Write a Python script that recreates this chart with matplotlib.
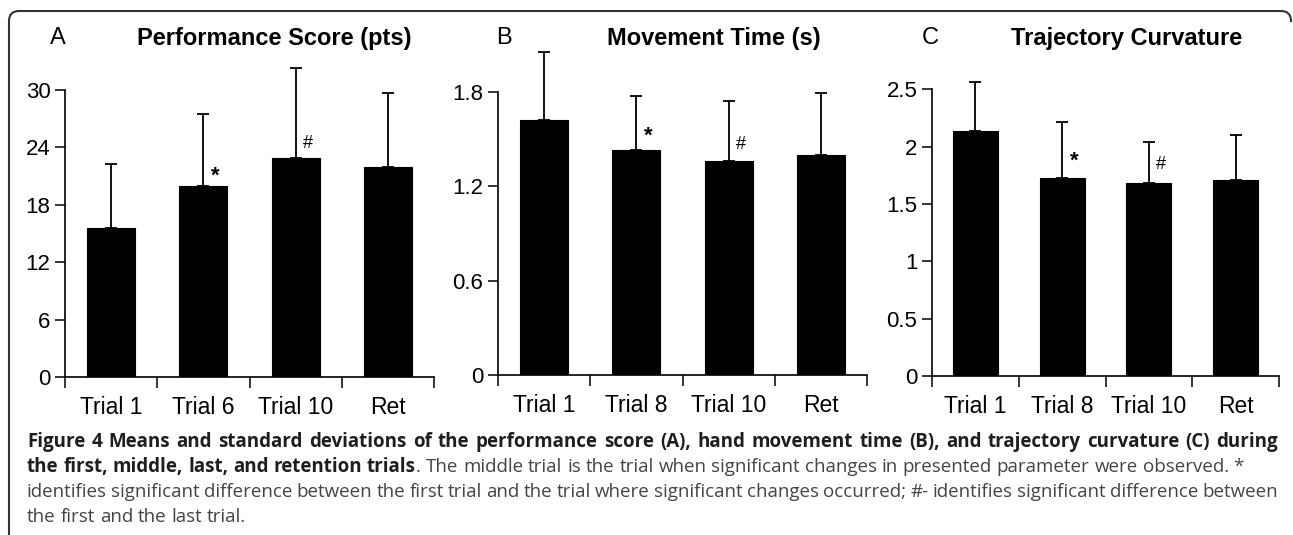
import matplotlib
matplotlib.use("Agg")
import numpy as np
from matplotlib import pyplot as plt
from matplotlib.patches import PathPatch
from matplotlib.path import Path

# data
trials_a = ["Trial 1", "Trial 6", "Trial 10", "Ret"]
trials_bc = ["Trial 1", "Trial 8", "Trial 10", "Ret"]

score_mean = [15.6, 19.9, 22.9, 21.9]
score_sd = [6.6, 7.6, 9.4, 7.8]

time_mean = [1.62, 1.43, 1.36, 1.40]
time_sd = [0.435, 0.345, 0.383, 0.394]

curv_mean = [2.14, 1.725, 1.68, 1.707]
curv_sd = [0.42, 0.485, 0.36, 0.393]

W, H = 1293, 535
plt.rcParams["font.family"] = ["Liberation Sans", "DejaVu Sans"]
fig = plt.figure(figsize=(W / 100, H / 100), dpi=100)


def fx(x):
    return x / W


def fy(y):
    return 1 - y / H


def panel(rect, cats, means, sds, ylim, yticks, ytl, spine_top, marks):
    x0, x1, ytop, ybot = rect
    ax = fig.add_axes([fx(x0), fy(ybot), fx(x1 - x0), (ybot - ytop) / H])
    pos = np.arange(len(cats))
    ax.bar(pos, means, width=0.52, color="black", edgecolor="black", lw=0.8, zorder=2)
    ax.errorbar(pos, means, yerr=[np.zeros(len(sds)), sds], fmt="none",
                ecolor="black", elinewidth=1.3, capsize=4.5, capthick=1.3, zorder=1)
    ax.set_xlim(-0.5, len(cats) - 0.5)
    ax.set_ylim(*ylim)
    for s in ["top", "right"]:
        ax.spines[s].set_visible(False)
    ax.spines["left"].set_bounds(0, spine_top)
    ax.spines["left"].set_linewidth(1.2)
    ax.spines["bottom"].set_linewidth(1.2)
    ax.set_yticks(yticks)
    ax.set_yticklabels(ytl, fontsize=16)
    ax.tick_params(axis="y", length=7, width=1.1, pad=3.5)
    ax.set_xticks(pos)
    ax.set_xticklabels(cats, fontsize=16.5)
    ax.tick_params(axis="x", which="major", length=0, pad=14)
    ax.set_xticks(np.arange(-0.5, len(cats), 1.0), minor=True)
    ax.tick_params(axis="x", which="minor", length=8, width=1.1)
    for i, sym, dy in marks:
        size = 16 if sym == "*" else 13
        wt = "bold" if sym == "*" else "normal"
        ax.annotate(sym, (pos[i], means[i]), xytext=(12, dy), textcoords="offset pixels",
                    ha="center", va="bottom", fontsize=size, fontweight=wt)
    return ax


panel((65, 434, 61, 377), trials_a, score_mean, score_sd, (0, 33),
      [0, 6, 12, 18, 24, 30], ["0", "6", "12", "18", "24", "30"], 30,
      [(1, "*", 0), (2, "#", 6)])
panel((498, 867, 45, 375), trials_bc, time_mean, time_sd, (0, 2.1),
      [0, 0.6, 1.2, 1.8], ["0", "0.6", "1.2", "1.8"], 1.8,
      [(1, "*", 4), (2, "#", 8)])
panel((932, 1279, 72, 376), trials_bc, curv_mean, curv_sd, (0, 2.65),
      [0, 0.5, 1, 1.5, 2, 2.5], ["0", "0.5", "1", "1.5", "2", "2.5"], 2.5,
      [(1, "*", 6), (2, "#", 10)])

# panel letters and titles
for lx, tx, letter, title in [(58, 274, "A", "Performance Score (pts)"),
                              (504, 714, "B", "Movement Time (s)"),
                              (930, 1127, "C", "Trajectory Curvature")]:
    fig.text(fx(lx), fy(38), letter, fontsize=17, ha="center", va="center")
    fig.text(fx(tx), fy(39), title, fontsize=17, fontweight="bold",
             ha="center", va="center")

# frame around the figure
r = 10
verts = [(9, H), (9, 11 + r), (9, 11), (9 + r, 11), (1291 - r, 11), (1291, 11),
         (1291, 11 + r), (1291, 22)]
codes = [Path.MOVETO, Path.LINETO, Path.CURVE3, Path.CURVE3, Path.LINETO,
         Path.CURVE3, Path.CURVE3, Path.LINETO]
verts = [(fx(x), fy(y)) for x, y in verts]
fig.add_artist(PathPatch(Path(verts, codes), facecolor="none", edgecolor="#333333",
                         lw=1.5, transform=fig.transFigure))

# caption, justified like the journal layout
cap_font = ["Open Sans", "DejaVu Sans"]
cap_size = 13.5
bold_c, reg_c = "#1e1e1e", "#444444"
line1 = [("Figure 4 Means and standard deviations of the performance score (A), hand "
          "movement time (B), and trajectory curvature (C) during", "bold", bold_c)]
line2 = [("the first, middle, last, and retention trials", "bold", bold_c),
         (". The middle trial is the trial when significant changes in presented "
          "parameter were observed. *", "normal", reg_c)]
line3 = [("identifies significant difference between the first trial and the trial "
          "where significant changes occurred; #- identifies significant difference "
          "between", "normal", reg_c)]
line4 = [("the first and the last trial.", "normal", reg_c)]

renderer = fig.canvas.get_renderer()


def caption_line(segs, ybase, x0, x1, justify):
    words = []
    for k, (txt, wt, col) in enumerate(segs):
        parts = txt.split(" ")
        for j, p in enumerate(parts):
            if p == "":
                continue
            glue = (j == 0 and k > 0 and not txt.startswith(" "))
            words.append((p, wt, col, glue))
    arts = []
    for p, wt, col, glue in words:
        t = fig.text(0, fy(ybase), p, fontsize=cap_size, fontweight=wt, color=col,
                     family=cap_font, ha="left", va="baseline")
        arts.append(t)
    widths = [t.get_window_extent(renderer).width for t in arts]
    space_t = fig.text(0, 0, "a a", fontsize=cap_size, family=cap_font)
    aa = fig.text(0, 0, "aa", fontsize=cap_size, family=cap_font)
    sp = space_t.get_window_extent(renderer).width - aa.get_window_extent(renderer).width
    space_t.remove()
    aa.remove()
    ngaps = sum(1 for w in words[1:] if not w[3])
    if justify and ngaps:
        sp = (x1 - x0 - sum(widths)) / ngaps
    x = x0
    for i, t in enumerate(arts):
        if i > 0 and not words[i][3]:
            x += sp
        t.set_x(fx(x))
        x += widths[i]


caption_line(line1, 447, 27, 1278, True)
caption_line(line2, 472, 27, 1278, False)
caption_line(line3, 497, 27, 1278, True)
caption_line(line4, 522, 27, 1278, False)

fig.savefig("out.png", dpi=100)
